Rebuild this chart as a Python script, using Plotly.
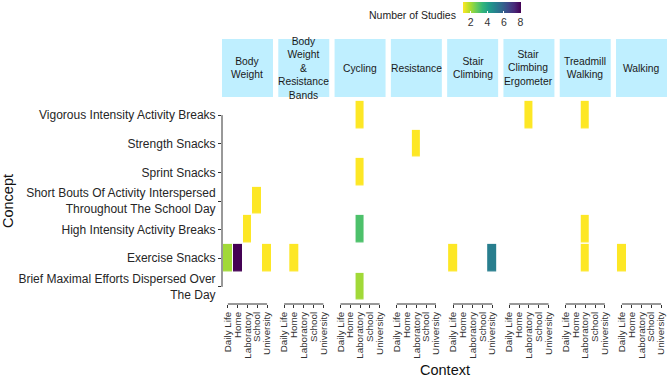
import plotly.graph_objects as go
from plotly.subplots import make_subplots

# ---- data ----
facets = ["Body Weight", "Body Weight & Resistance Bands", "Cycling", "Resistance",
          "Stair Climbing", "Stair Climbing Ergometer", "Treadmill Walking", "Walking"]
facet_labels = ["Body<br>Weight", "Body<br>Weight<br>&<br>Resistance<br>Bands", "Cycling",
                "Resistance", "Stair<br>Climbing", "Stair<br>Climbing<br>Ergometer",
                "Treadmill<br>Walking", "Walking"]
contexts = ["Daily Life", "Home", "Laboratory", "School", "University"]
# bottom to top
concepts = ["Brief Maximal Efforts Dispersed Over The Day",
            "Exercise Snacks",
            "High Intensity Activity Breaks",
            "Short Bouts Of Activity Interspersed Throughout The School Day",
            "Sprint Snacks",
            "Strength Snacks",
            "Vigorous Intensity Activity Breaks"]
concept_labels = ["Brief Maximal Efforts Dispersed Over<br>The Day",
                  "Exercise Snacks",
                  "High Intensity Activity Breaks",
                  "Short Bouts Of Activity Interspersed<br>Throughout The School Day",
                  "Sprint Snacks",
                  "Strength Snacks",
                  "Vigorous Intensity Activity Breaks"]

obs_facet = ["Body Weight", "Body Weight", "Body Weight", "Body Weight", "Body Weight",
             "Body Weight & Resistance Bands",
             "Cycling", "Cycling", "Cycling", "Cycling",
             "Resistance",
             "Stair Climbing", "Stair Climbing",
             "Stair Climbing Ergometer",
             "Treadmill Walking", "Treadmill Walking", "Treadmill Walking",
             "Walking"]
obs_concept = ["Exercise Snacks", "Exercise Snacks", "Exercise Snacks",
               "High Intensity Activity Breaks",
               "Short Bouts Of Activity Interspersed Throughout The School Day",
               "Exercise Snacks",
               "Vigorous Intensity Activity Breaks", "Sprint Snacks",
               "High Intensity Activity Breaks",
               "Brief Maximal Efforts Dispersed Over The Day",
               "Strength Snacks",
               "Exercise Snacks", "Exercise Snacks",
               "Vigorous Intensity Activity Breaks",
               "Vigorous Intensity Activity Breaks", "High Intensity Activity Breaks",
               "Exercise Snacks",
               "Exercise Snacks"]
obs_context = ["Daily Life", "Home", "University", "Laboratory", "School",
               "Home",
               "Laboratory", "Laboratory", "Laboratory", "Laboratory",
               "Laboratory",
               "Daily Life", "University",
               "Laboratory",
               "Laboratory", "Laboratory", "Laboratory",
               "Daily Life"]
obs_count = [2, 8, 1, 1, 1,
             1,
             1, 1, 3, 2,
             1,
             1, 5,
             1,
             1, 1, 1,
             1]

FONT = "Liberation Sans, Arial, sans-serif"
n = len(facets)
W, H = 669, 377
ml, mr, mt, mb = 222, 2, 98, 73
pw = W - ml - mr
ph = H - mt - mb

fig = make_subplots(rows=1, cols=n, shared_yaxes=True, horizontal_spacing=5.3 / pw)

for i, f in enumerate(facets):
    z = [[None for _ in contexts] for _ in concepts]
    for fa, co, cx, v in zip(obs_facet, obs_concept, obs_context, obs_count):
        if fa == f:
            z[concepts.index(co)][contexts.index(cx)] = v
    fig.add_trace(go.Heatmap(x=contexts, y=concepts, z=z, coloraxis="coloraxis",
                             xgap=1, ygap=1.5, hoverongaps=False),
                  row=1, col=i + 1)

    sfx = "" if i == 0 else str(i + 1)
    fig.update_xaxes(type="category", categoryorder="array", categoryarray=contexts,
                     range=[-0.6, len(contexts) - 0.4], showgrid=False, zeroline=False,
                     showline=False, ticks="outside", ticklen=3, tickcolor="#333",
                     tickmode="array", tickvals=contexts, ticktext=contexts,
                     tickangle=-90, automargin=False,
                     tickfont=dict(family=FONT, size=9.8, color="#333"),
                     row=1, col=i + 1)
    fig.update_yaxes(type="category", categoryorder="array", categoryarray=concepts,
                     range=[-0.6, len(concepts) - 0.4], showgrid=False, zeroline=False,
                     showline=False, automargin=False, row=1, col=i + 1)
    # capped x axis line
    fig.add_shape(type="line", xref="x" + sfx, yref="y" + sfx + " domain",
                  x0=0, x1=len(contexts) - 1, y0=0, y1=0,
                  line=dict(color="#333", width=1))
    # strip
    fig.add_shape(type="rect", xref="x" + sfx + " domain", yref="paper",
                  x0=0, x1=1, y0=1 + 1 / ph, y1=1 + 59 / ph,
                  fillcolor="#BFEFFF", line=dict(width=0), layer="below")
    fig.add_annotation(xref="x" + sfx + " domain", yref="paper", x=0.5, y=1 + 30 / ph,
                       text=facet_labels[i], showarrow=False, xanchor="center",
                       yanchor="middle", font=dict(family=FONT, size=10.3, color="#1a1a1a"))

fig.update_yaxes(tickmode="array", tickvals=concepts, ticktext=concept_labels,
                 ticks="outside", ticklen=3,
                 tickcolor="#333", tickfont=dict(family=FONT, size=12, color="#262626"),
                 row=1, col=1)
# capped y axis line
fig.add_shape(type="line", xref="x domain", yref="y", x0=0, x1=0,
              y0=0, y1=len(concepts) - 1, line=dict(color="#333", width=1))

# axis titles
fig.add_annotation(xref="paper", yref="paper", x=0.5, y=0, yshift=-66, text="Context",
                   showarrow=False, xanchor="center", yanchor="middle",
                   font=dict(family=FONT, size=14.5, color="#111"))
fig.add_annotation(xref="paper", yref="paper", x=0, y=0.5, xshift=-214, text="Concept",
                   showarrow=False, textangle=-90, xanchor="center", yanchor="middle",
                   font=dict(family=FONT, size=14.5, color="#111"))
# legend title
fig.add_annotation(xref="paper", yref="paper", x=(458 - ml) / pw, y=1 + (mt - 15) / ph,
                   text="Number of Studies", showarrow=False, xanchor="right",
                   yanchor="middle", font=dict(family=FONT, size=10.5, color="#222"))

fig.update_layout(
    width=W, height=H,
    margin=dict(l=ml, r=mr, t=mt, b=mb, autoexpand=False),
    paper_bgcolor="white", plot_bgcolor="white",
    font=dict(family=FONT),
    coloraxis=dict(
        colorscale="Viridis", reversescale=True, cmin=1, cmax=8,
        colorbar=dict(orientation="h", x=(491.5 - ml) / pw, xanchor="center",
                      y=1 + (mt - 2) / ph, yanchor="top",
                      lenmode="pixels", len=58, thickness=10.5,
                      outlinewidth=0, xpad=0, ypad=0,
                      tickvals=[2, 4, 6, 8], ticks="inside", ticklen=2,
                      tickcolor="white",
                      tickfont=dict(family=FONT, size=10.5, color="#333")),
    ),
)

fig.write_html("out.html", config={"displayModeBar": False},
               post_script="document.body.style.margin='0';")
